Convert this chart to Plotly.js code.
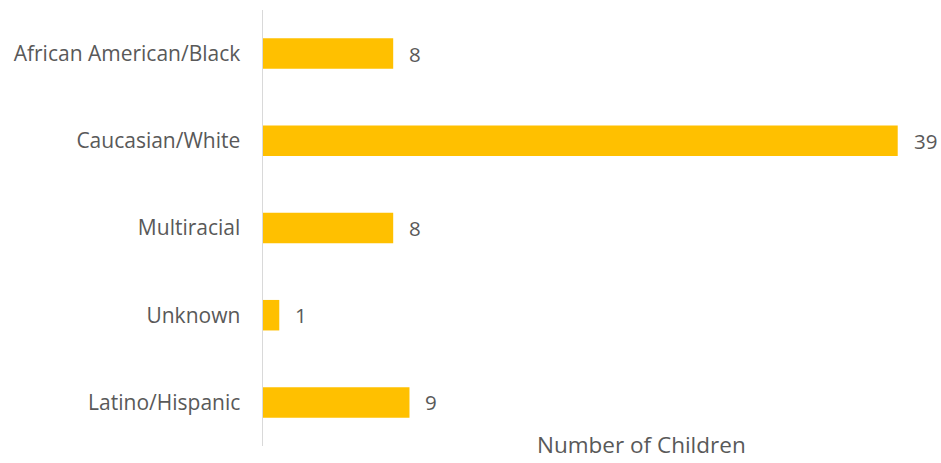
<!DOCTYPE html>
<html>
<head>
<meta charset="utf-8">
<script src="https://cdn.plot.ly/plotly-3.0.1.min.js"></script>
<style>html,body{margin:0;padding:0;background:#fff}#chart{width:941px;height:463px}</style>
</head>
<body>
<div id="chart"></div>
<script>
var categories = ["African American/Black", "Caucasian/White", "Multiracial", "Unknown", "Latino/Hispanic"];
var values = [8, 39, 8, 1, 9];
var xAxisTitle = "Number of Children";

var textColor = "#595959";
var fontFamily = "'Open Sans', 'Noto Sans', sans-serif";

var trace = {
  type: "bar",
  orientation: "h",
  y: categories,
  x: values,
  marker: {color: "#FFC000"},
  hoverinfo: "x+y"
};

var annotations = values.map(function (v, i) {
  return {
    x: v, y: categories[i], xref: "x", yref: "y",
    text: String(v), showarrow: false,
    xanchor: "left", xshift: 14,
    font: {family: fontFamily, size: 20.5, color: textColor}
  };
});
annotations.push({
  xref: "paper", yref: "paper", x: (641 - 263) / 651, y: 0.003,
  yanchor: "middle", xanchor: "center",
  text: xAxisTitle, showarrow: false,
  font: {family: fontFamily, size: 22.5, color: textColor}
});

var layout = {
  width: 941, height: 463,
  margin: {l: 263, r: 27, t: 10, b: 17},
  paper_bgcolor: "#fff", plot_bgcolor: "#fff",
  showlegend: false,
  bargap: 0.65,
  xaxis: {range: [0, 40], visible: false, fixedrange: true},
  yaxis: {
    autorange: "reversed",
    showline: true, linecolor: "#d9d9d9", linewidth: 1.5,
    showgrid: false, zeroline: false, ticks: "",
    ticklabelstandoff: 17,
    tickfont: {family: fontFamily, size: 21, color: textColor}
  },
  font: {family: fontFamily, color: textColor},
  annotations: annotations
};

Plotly.newPlot("chart", [trace], layout, {displayModeBar: false, staticPlot: true});
</script>
</body>
</html>
